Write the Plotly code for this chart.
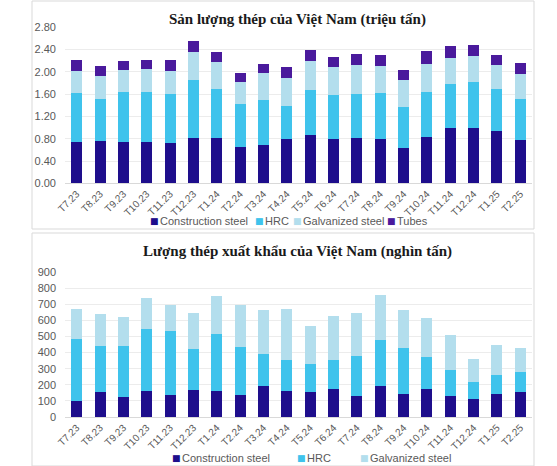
import plotly.graph_objects as go

# months on both charts
months = ['T7.23', 'T8.23', 'T9.23', 'T10.23', 'T11.23', 'T12.23', 'T1.24', 'T2.24',
          'T3.24', 'T4.24', 'T5.24', 'T6.24', 'T7.24', 'T8.24', 'T9.24', 'T10.24',
          'T11.24', 'T12.24', 'T1.25', 'T2.25']

# top chart: production (million tonnes)
prod_construction = [0.75, 0.76, 0.74, 0.74, 0.72, 0.82, 0.81, 0.66, 0.68, 0.79,
                     0.87, 0.79, 0.82, 0.80, 0.64, 0.84, 1.00, 1.00, 0.93, 0.78]
prod_hrc = [0.87, 0.76, 0.89, 0.90, 0.88, 1.03, 0.89, 0.76, 0.81, 0.60,
            0.81, 0.80, 0.79, 0.82, 0.73, 0.79, 0.79, 0.82, 0.77, 0.74]
prod_galvanized = [0.40, 0.41, 0.41, 0.41, 0.41, 0.50, 0.47, 0.40, 0.49, 0.50,
                   0.51, 0.50, 0.52, 0.49, 0.49, 0.52, 0.46, 0.46, 0.42, 0.44]
prod_tubes = [0.20, 0.17, 0.16, 0.16, 0.21, 0.20, 0.18, 0.16, 0.16, 0.19,
              0.20, 0.18, 0.19, 0.19, 0.18, 0.22, 0.21, 0.21, 0.18, 0.20]

# bottom chart: exports (thousand tonnes)
exp_construction = [99, 153, 126, 163, 139, 168, 159, 139, 190, 161,
                    157, 174, 128, 194, 141, 176, 132, 110, 145, 157]
exp_hrc = [387, 288, 317, 381, 397, 254, 356, 295, 201, 195,
           170, 182, 253, 286, 289, 196, 160, 109, 118, 124]
exp_galvanized = [182, 200, 180, 195, 159, 226, 236, 263, 275, 316,
                  236, 273, 267, 275, 234, 243, 215, 141, 184, 145]

NAVY = '#1e0e8c'
HRC = '#3fc3ec'
GALV = '#b3deed'
TUBES = '#4a1a9c'

W, H = 557, 466

def px(x):
    return x / W

def py(y):
    return 1 - y / H

fig = go.Figure()

top = [('Construction steel', prod_construction, NAVY),
       ('HRC', prod_hrc, HRC),
       ('Galvanized steel', prod_galvanized, GALV),
       ('Tubes', prod_tubes, TUBES)]
for name, vals, col in top:
    fig.add_trace(go.Bar(x=months, y=vals, name=name, marker_color=col,
                         marker_line_width=0, xaxis='x', yaxis='y', showlegend=False))

bottom = [('Construction steel', exp_construction, NAVY),
          ('HRC', exp_hrc, HRC),
          ('Galvanized steel', exp_galvanized, GALV)]
for name, vals, col in bottom:
    fig.add_trace(go.Bar(x=months, y=vals, name=name, marker_color=col,
                         marker_line_width=0, xaxis='x2', yaxis='y2', showlegend=False))

tick_font = dict(family='Liberation Sans, Arial, sans-serif', size=11, color='#595959')
title_font = dict(family='Liberation Serif, DejaVu Serif, serif', size=15, color='#1a1a1a')

xcommon = dict(type='category', tickangle=-45, tickfont=dict(tick_font, size=10),
               showgrid=False, showline=True, linecolor='#d9d9d9', linewidth=1,
               ticks='', domain=[px(65), px(532)])

# hand-made legends (small square + label), placed like the original
legend_top = [('Construction steel', NAVY, 154), ('HRC', HRC, 259),
              ('Galvanized steel', GALV, 297), ('Tubes', TUBES, 391)]
legend_bottom = [('Construction steel', NAVY, 176), ('HRC', HRC, 301),
                 ('Galvanized steel', GALV, 364)]

annotations = [
    dict(text='<b>Sản lượng thép của Việt Nam (triệu tấn)</b>', x=px(297), y=py(20),
         xanchor='center', yanchor='middle', xref='paper', yref='paper',
         showarrow=False, font=title_font),
    dict(text='<b>Lượng thép xuất khẩu của Việt Nam (nghìn tấn)</b>', x=px(297), y=py(251),
         xanchor='center', yanchor='middle', xref='paper', yref='paper',
         showarrow=False, font=title_font),
]
for items, ly in [(legend_top, 221), (legend_bottom, 458)]:
    for name, col, lx in items:
        annotations.append(dict(
            text='■', x=px(lx), y=py(ly), xanchor='center', yanchor='middle',
            xref='paper', yref='paper', showarrow=False,
            font=dict(family='DejaVu Sans', size=9, color=col)))
        annotations.append(dict(
            text=name, x=px(lx + 4), y=py(ly), xanchor='left', yanchor='middle',
            xref='paper', yref='paper', showarrow=False, font=tick_font))

fig.update_layout(
    width=W, height=H,
    margin=dict(l=0, r=0, t=0, b=0, autoexpand=False),
    paper_bgcolor='white', plot_bgcolor='white',
    barmode='stack', bargap=0.53,
    xaxis=dict(xcommon, anchor='y'),
    yaxis=dict(domain=[py(183.3), py(27.3)], range=[0, 2.8], dtick=0.4, tickformat='.2f',
               tickfont=tick_font, gridcolor='#ececec', gridwidth=1, zeroline=False,
               ticklabelstandoff=8, anchor='x'),
    xaxis2=dict(xcommon, anchor='y2'),
    yaxis2=dict(domain=[py(417), py(272)], range=[0, 900], dtick=100,
                tickfont=tick_font, gridcolor='#ececec', gridwidth=1, zeroline=False,
                ticklabelstandoff=8, anchor='x2'),
    annotations=annotations,
    shapes=[
        dict(type='rect', xref='paper', yref='paper', x0=px(32), x1=px(534),
             y0=py(229), y1=py(1), line=dict(color='#d9d9d9', width=1), layer='below'),
        dict(type='rect', xref='paper', yref='paper', x0=px(32), x1=px(534),
             y0=py(466), y1=py(233), line=dict(color='#d9d9d9', width=1), layer='below'),
    ],
)

# drop the page's default body margin so the figure fills the window exactly
fig.write_html("out.html", config={'displayModeBar': False},
               post_script="document.body.style.margin='0';")
